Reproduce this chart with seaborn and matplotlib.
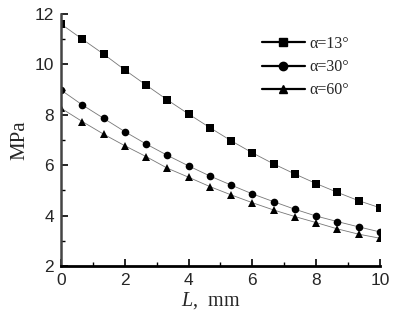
import numpy as np
import pandas as pd
import matplotlib
matplotlib.use("Agg")
import matplotlib.pyplot as plt
import seaborn as sns
from matplotlib.ticker import MultipleLocator
from matplotlib.lines import Line2D

# data
L_mm = [0, 0.667, 1.333, 2, 2.667, 3.333, 4, 4.667, 5.333, 6, 6.667, 7.333, 8, 8.667, 9.333, 10]
p_13 = [11.60, 11.00, 10.41, 9.78, 9.18, 8.59, 8.03, 7.49, 6.97, 6.49, 6.05, 5.65, 5.27, 4.92, 4.59, 4.31]
p_30 = [8.98, 8.39, 7.86, 7.33, 6.84, 6.39, 5.97, 5.57, 5.21, 4.86, 4.55, 4.25, 3.98, 3.76, 3.55, 3.35]
p_60 = [8.26, 7.73, 7.23, 6.77, 6.34, 5.88, 5.52, 5.15, 4.82, 4.51, 4.22, 3.96, 3.72, 3.47, 3.26, 3.10]
labels = ["α=13°", "α=30°", "α=60°"]

data = pd.DataFrame({
    "L": L_mm * 3,
    "MPa": p_13 + p_30 + p_60,
    "angle": [labels[0]] * 16 + [labels[1]] * 16 + [labels[2]] * 16,
})

sns.set_style("ticks")
plt.rcParams["font.family"] = ["Liberation Sans", "DejaVu Sans"]
plt.rcParams["mathtext.fontset"] = "custom"
plt.rcParams["mathtext.rm"] = "Liberation Serif"
plt.rcParams["mathtext.it"] = "Liberation Serif:italic"

fig = plt.figure(figsize=(3.94, 3.11), dpi=100)
ax = fig.add_axes([0.155, 0.145, 0.809, 0.81])

markers = {labels[0]: "s", labels[1]: "o", labels[2]: "^"}
sns.lineplot(data=data, x="L", y="MPa", hue="angle", style="angle",
             markers=markers, dashes=False, palette=["#777777"] * 3,
             linewidth=0.6, markersize=5.5, markeredgewidth=0,
             legend=False, ax=ax)
for ln in ax.lines:
    ln.set_markerfacecolor("black")
    ln.set_markeredgecolor("black")

ax.set_xlim(0, 10)
ax.set_ylim(2, 12)
ax.xaxis.set_major_locator(MultipleLocator(2))
ax.xaxis.set_minor_locator(MultipleLocator(1))
ax.yaxis.set_major_locator(MultipleLocator(2))
ax.yaxis.set_minor_locator(MultipleLocator(1))
ax.tick_params(which="major", direction="in", length=5, width=1.2, labelsize=12.5, color="black")
ax.tick_params(axis="x", which="major", pad=5)
ax.tick_params(axis="y", which="major", pad=5)
ax.tick_params(which="minor", direction="in", length=3, width=1, color="black")

sns.despine(ax=ax)
ax.spines["bottom"].set_linewidth(2)
ax.spines["left"].set_linewidth(1.8)
ax.spines["left"].set_color("#444444")
ax.spines["bottom"].set_color("black")

ax.set_xlabel("")
ax.set_ylabel("MPa", family="Liberation Serif", fontsize=15, labelpad=4)
fig.text(0.535, 0.068, "$L$,  mm", family="Liberation Serif", fontsize=14.5, ha="center", va="top")

handles = [Line2D([], [], color="black", lw=1.6, marker=markers[lab], markersize=6,
                  markerfacecolor="black", markeredgecolor="black") for lab in labels]
ax.legend(handles, labels, loc="upper left", bbox_to_anchor=(0.585, 0.97), frameon=False,
          prop={"family": "Liberation Serif", "size": 11.5}, handlelength=2.7,
          handletextpad=0.3, labelspacing=0.45)

fig.savefig("out.png", dpi=100)
